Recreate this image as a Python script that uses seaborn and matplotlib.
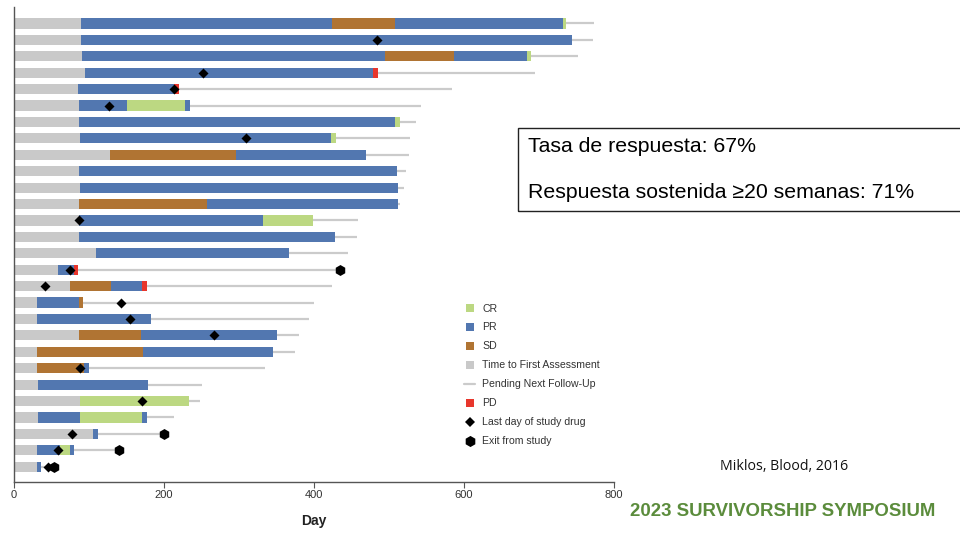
import numpy as np
import pandas as pd
import matplotlib
matplotlib.use("Agg")
import matplotlib.pyplot as plt
from matplotlib.lines import Line2D
from matplotlib.patches import Rectangle
import seaborn as sns

# ---- swimmer data: one entry per patient, top to bottom ----
# response segments (state, day at which the segment ends)
seg_states = [
    ["TFA", "PR", "SD", "PR", "CR"],
    ["TFA", "PR"],
    ["TFA", "PR", "SD", "PR", "CR"],
    ["TFA", "PR", "PD"],
    ["TFA", "PR", "PD"],
    ["TFA", "PR", "CR", "PR"],
    ["TFA", "PR", "CR"],
    ["TFA", "PR", "CR"],
    ["TFA", "SD", "PR"],
    ["TFA", "PR"],
    ["TFA", "PR"],
    ["TFA", "SD", "PR"],
    ["TFA", "PR", "CR"],
    ["TFA", "PR"],
    ["TFA", "PR"],
    ["TFA", "PR", "PD"],
    ["TFA", "SD", "PR", "PD"],
    ["TFA", "PR", "SD"],
    ["TFA", "PR"],
    ["TFA", "SD", "PR"],
    ["TFA", "SD", "PR"],
    ["TFA", "SD", "PR"],
    ["TFA", "PR"],
    ["TFA", "CR"],
    ["TFA", "PR", "CR", "PR"],
    ["TFA", "PR"],
    ["TFA", "PR", "CR", "PR"],
    ["TFA", "PR"],
]
seg_ends = [
    [89, 424, 508, 732, 736],
    [89, 744],
    [90, 495, 587, 684, 689],
    [95, 479, 485],
    [85, 213, 220],
    [87, 151, 228, 234],
    [87, 508, 514],
    [88, 423, 429],
    [128, 296, 469],
    [87, 511],
    [88, 512],
    [87, 257, 512],
    [87, 332, 399],
    [87, 428],
    [109, 366],
    [59, 80, 85],
    [74, 129, 171, 177],
    [31, 86, 92],
    [31, 183],
    [86, 169, 350],
    [31, 172, 345],
    [31, 93, 100],
    [32, 179],
    [88, 233],
    [32, 88, 171, 177],
    [105, 112],
    [31, 61, 74, 80],
    [31, 36],
]
# last day of follow-up (pending next follow-up line ends here)
followup_end = [773, 772, 752, 694, 584, 542, 536, 528, 527, 522, 520, 515,
                458, 457, 445, 435, 424, 400, 393, 380, 374, 334, 250, 248,
                213, 200, 140, 53]
# last day of study drug (NaN = still on drug)
drug_last_day = [np.nan, 484, np.nan, 252, 213, 126, np.nan, 309, np.nan,
                 np.nan, np.nan, np.nan, 87, np.nan, np.nan, 75, 41, 142, 154,
                 267, np.nan, 88, np.nan, 170, np.nan, 77, 59, 45]
# exit from study (NaN = still in study)
exit_day = [np.nan] * 15 + [435] + [np.nan] * 9 + [200, 140, 53]

x_ticks = [0, 200, 400, 600, 800]

state_colors = {
    "CR": "#bcd882",
    "PR": "#5277b0",
    "SD": "#b07433",
    "TFA": "#c9c9c9",
    "PD": "#e8362c",
}
legend_labels = {
    "CR": "CR",
    "PR": "PR",
    "SD": "SD",
    "TFA": "Time to First Assessment",
    "PD": "PD",
}
pending_color = "#cbcbcb"

# ---- long-form tables ----
rows = []
for i, (states, ends) in enumerate(zip(seg_states, seg_ends)):
    start = 0
    for st, en in zip(states, ends):
        rows.append({"patient": i, "state": st, "start": start, "end": en})
        start = en
segments = pd.DataFrame(rows)
segments["length"] = segments["end"] - segments["start"]

patients = pd.DataFrame({
    "patient": np.arange(len(seg_ends)),
    "bar_end": [e[-1] for e in seg_ends],
    "followup_end": followup_end,
    "drug_last_day": drug_last_day,
    "exit_day": exit_day,
})

# ---- figure ----
sns.set_theme(style="white")
plt.rcParams["font.family"] = ["Liberation Sans", "DejaVu Sans"]

fig = plt.figure(figsize=(9.6, 5.33), dpi=100)
ax = fig.add_axes([14 / 960, 1 - 482 / 533, 600 / 960, 475 / 533])

# pending next follow-up lines
ax.hlines(patients["patient"], patients["bar_end"], patients["followup_end"],
          color=pending_color, linewidth=1.6, zorder=1)

# response bars
bar_h = 0.62
for st, grp in segments.groupby("state"):
    ax.barh(grp["patient"], grp["length"], left=grp["start"], height=bar_h,
            color=state_colors[st], linewidth=0, zorder=2)

# last day of study drug / exit from study markers
sns.scatterplot(data=patients.dropna(subset=["drug_last_day"]),
                x="drug_last_day", y="patient", marker="D", s=26,
                color="black", linewidth=0, ax=ax, zorder=4, legend=False)
sns.scatterplot(data=patients.dropna(subset=["exit_day"]),
                x="exit_day", y="patient", marker="h", s=62,
                color="black", linewidth=0, ax=ax, zorder=5, legend=False)

ax.set_xlim(0, 800)
ax.set_ylim(len(seg_ends) - 1 + 0.93, -1.0)
ax.set_yticks([])
ax.set_xticks(x_ticks)
ax.tick_params(axis="x", direction="out", length=4, width=0.8,
               color="#555555", labelsize=8, pad=2, bottom=True)
for lab in ax.get_xticklabels():
    lab.set_color("#333333")
for side in ("top", "right"):
    ax.spines[side].set_visible(False)
for side in ("left", "bottom"):
    ax.spines[side].set_color("#555555")
    ax.spines[side].set_linewidth(1.0)
ax.set_xlabel("Day", fontsize=10, fontweight="bold", color="#222222")
ax.xaxis.set_label_coords(0.5, -(521 - 482) / 475)
ax.xaxis.label.set_va("center")
ax.set_ylabel("")

# legend
handles = []
for st in ["CR", "PR", "SD", "TFA"]:
    handles.append(Line2D([], [], linestyle="none", marker="s", markersize=5.5,
                          markerfacecolor=state_colors[st], markeredgewidth=0,
                          label=legend_labels[st]))
handles.append(Line2D([], [], color=pending_color, linewidth=1.6,
                      label="Pending Next Follow-Up"))
handles.append(Line2D([], [], linestyle="none", marker="s", markersize=5.5,
                      markerfacecolor=state_colors["PD"], markeredgewidth=0,
                      label="PD"))
handles.append(Line2D([], [], linestyle="none", marker="D", markersize=5,
                      color="black", markeredgewidth=0,
                      label="Last day of study drug"))
handles.append(Line2D([], [], linestyle="none", marker="h", markersize=8,
                      color="black", markeredgewidth=0,
                      label="Exit from study"))
leg = fig.legend(handles=handles, loc="upper left",
                 bbox_to_anchor=(464 / 960, 1 - 303.5 / 533),
                 frameon=False, fontsize=7.6, handlelength=1.05,
                 handletextpad=0.7, labelspacing=0.85,
                 borderpad=0, borderaxespad=0)
for t in leg.get_texts():
    t.set_color("#333333")

# response summary box
fig.add_artist(Rectangle((518 / 960, 1 - 211 / 533), (965 - 518) / 960,
                         83 / 533, transform=fig.transFigure, fill=False,
                         edgecolor="#222222", linewidth=1.0))
fig.text(528 / 960, 1 - 146 / 533, "Tasa de respuesta: 67%",
         fontsize=15.3, va="center", ha="left", color="black")
fig.text(528 / 960, 1 - 193 / 533, "Respuesta sostenida \u226520 semanas: 71%",
         fontsize=15.3, va="center", ha="left", color="black")

# citation and footer
fig.text(784 / 960, 1 - 467 / 533, "Miklos, Blood, 2016",
         fontsize=10.2, family=["Open Sans", "DejaVu Sans"],
         va="center", ha="center", color="#111111")
fig.text(782.5 / 960, 1 - 511 / 533, "2023 SURVIVORSHIP SYMPOSIUM",
         fontsize=13.4, fontweight="bold", va="center", ha="center",
         color="#5b8c3c")

fig.savefig("out.png", dpi=100)
